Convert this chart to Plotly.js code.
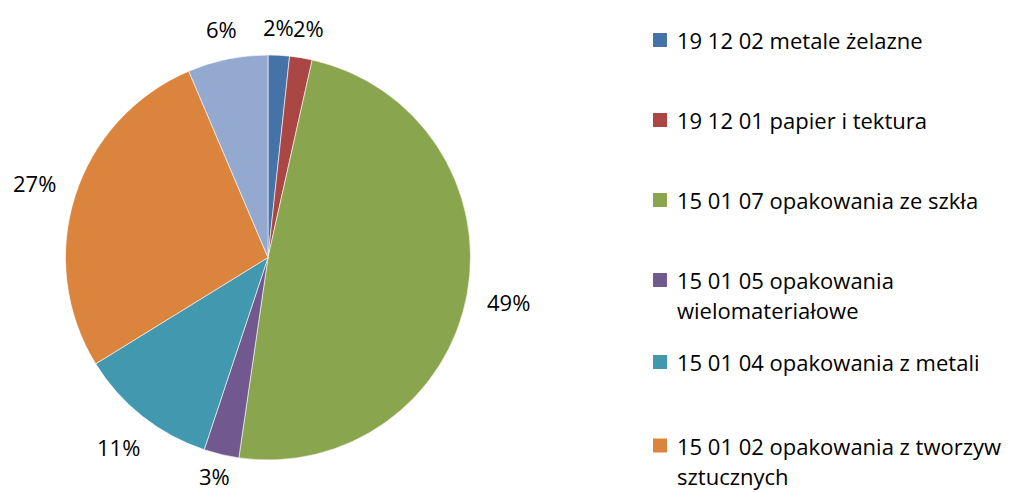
<!DOCTYPE html>
<html>
<head>
<meta charset="utf-8">
<script src="https://cdn.plot.ly/plotly-3.0.1.min.js"></script>
<style>html,body{margin:0;padding:0;background:#fff;}#chart{width:1025px;height:493px;}</style>
</head>
<body>
<div id="chart"></div>
<script>
const categories = [
  "19 12 02 metale żelazne",
  "19 12 01 papier i tektura",
  "15 01 07 opakowania ze szkła",
  "15 01 05 opakowania wielomateriałowe",
  "15 01 04 opakowania z metali",
  "15 01 02 opakowania z tworzyw sztucznych",
  "15 01 01 opakowania z papieru i tektury"
];
const values = [1.7, 1.8, 48.8, 2.8, 11.1, 27.4, 6.4];
const colors = ["#4572A7", "#AA4643", "#89A54E", "#71588F", "#4198AF", "#DB843D", "#93A9CF"];
// legend text lines as wrapped in the reference (7th entry falls below the visible area)
const legendLines = [
  ["19 12 02 metale żelazne"],
  ["19 12 01 papier i tektura"],
  ["15 01 07 opakowania ze szkła"],
  ["15 01 05 opakowania", "wielomateriałowe"],
  ["15 01 04 opakowania z metali"],
  ["15 01 02 opakowania z tworzyw", "sztucznych"]
];

const W = 1025, H = 493;
const FONT = "Open Sans, sans-serif";
const FS = 22;
const px = x => x / W;
const py = y => 1 - y / H;

// pie geometry (pixels)
const CX = 268, CY = 257.5, R = 202.5;

const shapes = [], annotations = [];
const entryY = [40, 120, 200, 280, 362, 445.5];
legendLines.forEach((lines, i) => {
  const yc = entryY[i];
  shapes.push({type: "rect", xref: "paper", yref: "paper",
    x0: px(653), x1: px(667), y0: py(yc + 7), y1: py(yc - 7),
    fillcolor: colors[i], line: {width: 0}});
  lines.forEach((t, j) => {
    annotations.push({xref: "paper", yref: "paper", x: px(675), y: py(yc + j * 30),
      xanchor: "left", yanchor: "middle", showarrow: false, text: t,
      font: {family: FONT, size: FS, color: "#000"}});
  });
});

// percentage labels outside the slices, positioned from the values
const total = values.reduce((a, b) => a + b, 0);
let cum = 0;
const labs = values.map(v => {
  const mid = (cum + v / 2) / total * 2 * Math.PI;
  cum += v;
  const txt = Math.round(v / total * 100) + "%";
  const hw = txt.length * 7, hh = 8;
  const sx = Math.sin(mid), cy = -Math.cos(mid);
  const d = R + 20 + Math.abs(sx) * hw + Math.abs(cy) * hh;
  return {txt, x: CX + d * sx, y: Math.min(CY + d * cy, H - 17), hw};
});
// resolve horizontal overlap between neighbours
for (let k = 0; k < 3; k++) {
  for (let i = 0; i < labs.length - 1; i++) {
    const a = labs[i], b = labs[i + 1];
    if (Math.abs(a.y - b.y) < 18) {
      const need = a.hw + b.hw + 2 - Math.abs(b.x - a.x);
      if (need > 0) { const s = need / 2 * Math.sign(b.x - a.x || 1); a.x -= s; b.x += s; }
    }
  }
}
labs.forEach(l => {
  annotations.push({xref: "paper", yref: "paper", x: px(l.x), y: py(l.y),
    xanchor: "center", yanchor: "middle", showarrow: false, text: l.txt,
    font: {family: FONT, size: FS, color: "#000"}});
});

const trace = {
  type: "pie",
  labels: categories,
  values: values,
  sort: false,
  direction: "clockwise",
  rotation: 0,
  marker: {colors: colors, line: {color: "#ffffff", width: 0.6}},
  textinfo: "none",
  hoverinfo: "label+percent",
  domain: {x: [px(CX - R), px(CX + R)], y: [py(CY + R), py(CY - R)]},
  automargin: false
};

Plotly.newPlot("chart", [trace], {
  width: W, height: H,
  margin: {l: 0, r: 0, t: 0, b: 0},
  paper_bgcolor: "#fff",
  showlegend: false,
  shapes: shapes,
  annotations: annotations
}, {displayModeBar: false, staticPlot: true});
</script>
</body>
</html>
